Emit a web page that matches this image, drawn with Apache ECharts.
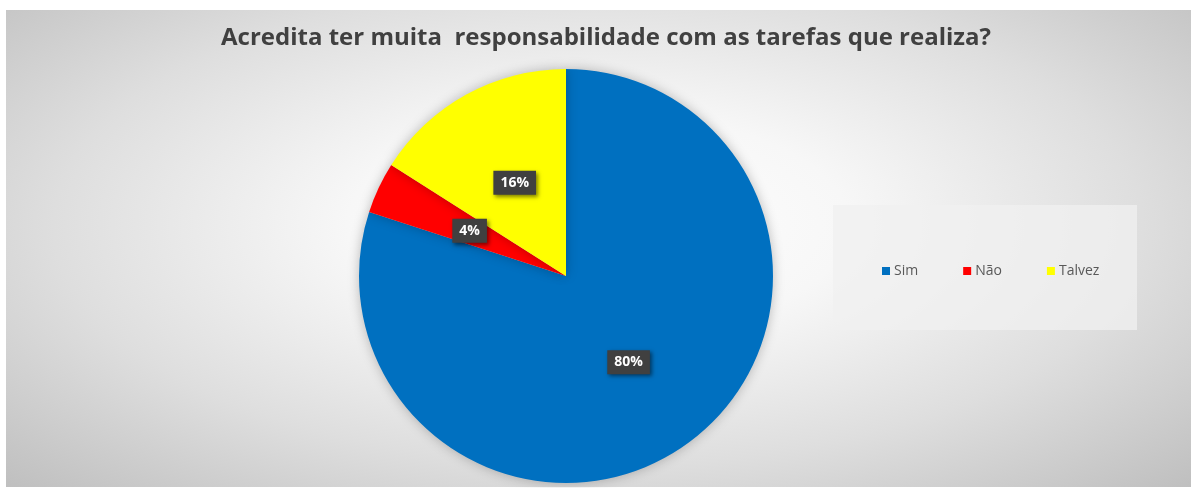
<!DOCTYPE html>
<html><head><meta charset="utf-8">
<script src="https://cdn.jsdelivr.net/npm/echarts@6/dist/echarts.min.js"></script>
<style>
html,body{margin:0;padding:0;background:#fff;}
#wrap{position:relative;width:1198px;height:488px;background:#fff;overflow:hidden;}
#bg{position:absolute;left:6px;top:10px;width:1185px;height:477px;
background:radial-gradient(ellipse farthest-corner at 50% 45%, #ffffff 0%, #f7f7f7 30%, #dedede 65%, #bfbfbf 100%);}
#chart{position:absolute;left:0;top:0;width:1198px;height:488px;}
</style></head>
<body>
<div id="wrap"><div id="bg"></div><div id="chart"></div></div>
<script>
const titleText = 'Acredita ter muita  responsabilidade com as tarefas que realiza?';
const categories = ['Sim', 'Não', 'Talvez'];
const values = [80, 4, 16];
const colors = ['#0070C0', '#FF0000', '#FFFF00'];

const chart = echarts.init(document.getElementById('chart'), null, {renderer:'canvas'});
chart.setOption({
  backgroundColor: 'transparent',
  animation: false,
  title: {
    text: titleText,
    left: 601, top: 21, textAlign: 'center',
    textStyle: {fontFamily: 'Open Sans', fontWeight: 'bold', fontSize: 24, color: '#404040'}
  },
  graphic: [{
    type: 'rect', left: 833, top: 205, shape: {width: 304, height: 125},
    style: {fill: 'rgba(240,240,240,0.75)'}, z: -1
  }],
  legend: {
    data: categories,
    left: 877, top: 259,
    icon: 'rect', itemWidth: 8, itemHeight: 8, itemGap: 45,
    textStyle: {fontFamily: 'Open Sans', fontSize: 14, color: '#595959', padding: [0,0,0,-1]}
  },
  series: [{
    type: 'pie',
    center: [566, 276],
    radius: 207,
    startAngle: 90,
    clockwise: true,
    data: categories.map((c, i) => ({name: c, value: values[i], itemStyle: {color: colors[i]}})),
    itemStyle: {shadowBlur: 12, shadowColor: 'rgba(0,0,0,0.25)'},
    label: {
      show: true, position: 'inside',
      formatter: p => p.value + '%',
      color: '#ffffff', fontFamily: 'Open Sans', fontWeight: 'bold', fontSize: 14,
      backgroundColor: '#404040', padding: [6, 7, 4, 7],
      shadowBlur: 4, shadowColor: 'rgba(0,0,0,0.5)', shadowOffsetX: 2, shadowOffsetY: 2
    },
    labelLine: {show: false},
    emphasis: {disabled: true}
  }]
});
</script>
</body></html>
